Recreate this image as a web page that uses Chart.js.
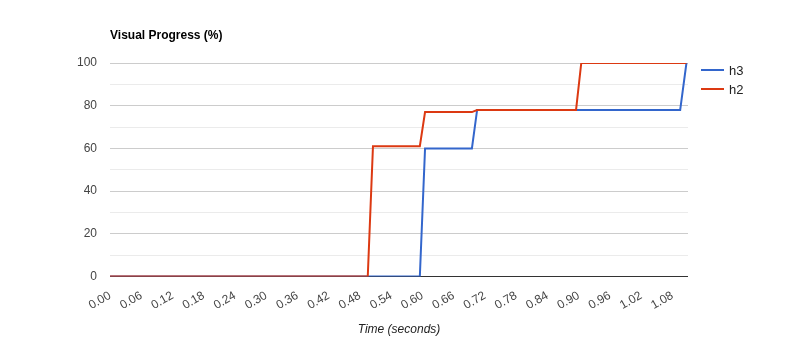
<!DOCTYPE html>
<html>
<head>
<meta charset="utf-8">
<script src="https://cdn.jsdelivr.net/npm/chart.js@4"></script>
<style>
    body { margin: 0; background: #fff; }
    #wrap { width: 800px; height: 364px; }
</style>
</head>
<body>
<div id="wrap"><canvas id="meuGrafico"></canvas></div>
<script>
// dados (tempo em segundos, progresso visual em %)
const h3Time = [0, 0.595, 0.605, 0.695, 0.705, 1.095, 1.107];
const h3Progress = [0, 0, 60, 60, 78, 78, 100];
const h2Time = [0, 0.495, 0.505, 0.595, 0.605, 0.695, 0.705, 0.895, 0.905, 1.107];
const h2Progress = [0, 0, 61, 61, 77, 77, 78, 78, 100, 100];
const seriesNames = ['h3', 'h2'];
const seriesColors = ['#3366cc', '#dc3912'];

const toPoints = (xs, ys) => xs.map((x, i) => ({ x: x, y: ys[i] }));

// título e legenda desenhados à moda do Google Charts
const extras = {
    id: 'extras',
    afterDraw(chart) {
        const ctx = chart.ctx;
        const area = chart.chartArea;
        ctx.save();
        ctx.fillStyle = '#000';
        ctx.font = 'bold 12px "Liberation Sans", Arial, sans-serif';
        ctx.textBaseline = 'middle';
        ctx.textAlign = 'left';
        ctx.fillText('Visual Progress (%)', area.left, 36);

        ctx.font = '13px "Liberation Sans", Arial, sans-serif';
        chart.data.datasets.forEach((ds, i) => {
            const y = area.top + 7 + i * 19;
            ctx.strokeStyle = ds.borderColor;
            ctx.lineWidth = 2;
            ctx.beginPath();
            ctx.moveTo(area.right + 13, y);
            ctx.lineTo(area.right + 36, y);
            ctx.stroke();
            ctx.fillStyle = '#222';
            ctx.fillText(ds.label, area.right + 41, y + 1);
        });
        ctx.restore();
    }
};

const ctx = document.getElementById('meuGrafico').getContext('2d');

new Chart(ctx, {
    type: 'line',
    data: {
        datasets: [{
            label: seriesNames[0],
            data: toPoints(h3Time, h3Progress),
            borderColor: seriesColors[0],
            backgroundColor: seriesColors[0],
            borderWidth: 2,
            pointRadius: 0,
            tension: 0,
            order: 1 // h2 fica por cima
        }, {
            label: seriesNames[1],
            data: toPoints(h2Time, h2Progress),
            borderColor: seriesColors[1],
            backgroundColor: seriesColors[1],
            borderWidth: 2,
            pointRadius: 0,
            tension: 0,
            order: 0
        }]
    },
    options: {
        responsive: true,
        maintainAspectRatio: false,
        animation: false,
        layout: {
            padding: { left: 64, right: 112, top: 63, bottom: 23 }
        },
        plugins: {
            legend: { display: false },
            tooltip: { enabled: false }
        },
        scales: {
            x: {
                type: 'linear',
                min: 0,
                max: 1.11,
                grid: { display: false },
                border: { display: false },
                ticks: {
                    stepSize: 0.06,
                    includeBounds: false,
                    autoSkip: false,
                    maxRotation: 30,
                    minRotation: 30,
                    padding: 4,
                    color: '#444',
                    font: { family: '"Liberation Sans", Arial, sans-serif', size: 12 },
                    callback: value => value.toFixed(2)
                },
                title: {
                    display: true,
                    text: 'Time (seconds)',
                    color: '#222',
                    padding: { top: 6 },
                    font: { family: '"Liberation Sans", Arial, sans-serif', size: 12, style: 'italic' }
                }
            },
            y: {
                min: 0,
                max: 100,
                border: { display: false },
                grid: {
                    drawTicks: false,
                    color: c => c.tick.value === 0 ? '#333' : (c.tick.value % 20 === 0 ? '#cccccc' : '#ebebeb')
                },
                ticks: {
                    stepSize: 10,
                    padding: 13,
                    color: '#444',
                    font: { family: '"Liberation Sans", Arial, sans-serif', size: 12 },
                    callback: value => value % 20 === 0 ? value : ''
                }
            }
        }
    },
    plugins: [extras]
});
</script>
</body>
</html>
